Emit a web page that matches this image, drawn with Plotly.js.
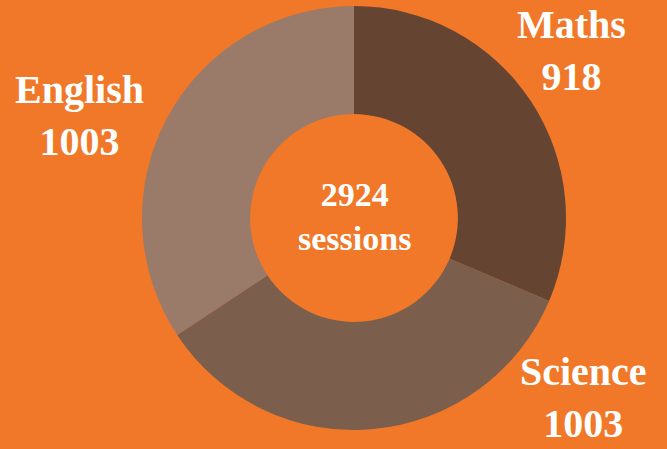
<!DOCTYPE html>
<html>
<head>
<meta charset="utf-8">
<script src="https://cdn.plot.ly/plotly-3.0.1.min.js"></script>
<style>html,body{margin:0;padding:0;background:#F07828;}#chart{width:667px;height:449px;}</style>
</head>
<body>
<div id="chart"></div>
<script>
var subjects = ["Maths", "Science", "English"];
var sessions = [918, 1003, 1003];
var sliceColors = ["#654432", "#7B5E4C", "#9A7B69"];
var centerLabel = "sessions";

var total = sessions.reduce(function(a, b){ return a + b; }, 0);
var labelPos = [
  {x: 571/667, y: 1 - 50/449},
  {x: 583/667, y: 1 - 397/449},
  {x: 79/667, y: 1 - 115/449}
];
var fontFam = "Liberation Serif, DejaVu Serif, serif";

var annotations = subjects.map(function(s, i){
  return {
    text: s + "<br>" + sessions[i],
    x: labelPos[i].x, y: labelPos[i].y, xref: "paper", yref: "paper",
    xanchor: "center", yanchor: "middle", showarrow: false,
    font: {family: fontFam, size: 40, color: "#ffffff", weight: "bold"}
  };
});
annotations.push({
  text: total + "<br>" + centerLabel,
  x: 354/667, y: 1 - 216/449, xref: "paper", yref: "paper",
  xanchor: "center", yanchor: "middle", showarrow: false,
  font: {family: fontFam, size: 34, color: "#ffffff", weight: "bold"}
});

var data = [{
  type: "pie",
  labels: subjects,
  values: sessions,
  hole: 0.49,
  sort: false,
  direction: "clockwise",
  rotation: 0,
  marker: {colors: sliceColors, line: {width: 0}},
  textinfo: "none",
  hoverinfo: "label+value",
  domain: {x: [142/667, 566/667], y: [19/449, 443/449]},
  showlegend: false
}];

var layout = {
  width: 667, height: 449,
  margin: {l: 0, r: 0, t: 0, b: 0},
  paper_bgcolor: "#F07828",
  plot_bgcolor: "#F07828",
  showlegend: false,
  annotations: annotations
};

Plotly.newPlot("chart", data, layout, {displayModeBar: false, staticPlot: true});
</script>
</body>
</html>
